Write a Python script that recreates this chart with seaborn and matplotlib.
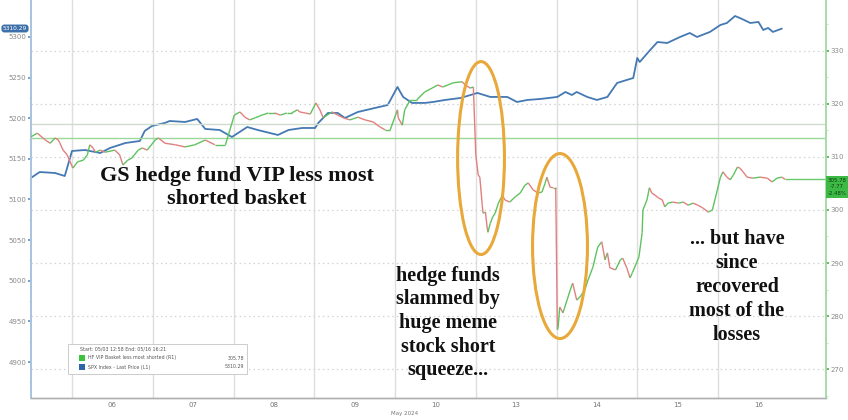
import numpy as np
import pandas as pd
import seaborn as sns
import matplotlib
matplotlib.use("Agg")
import matplotlib.pyplot as plt
from matplotlib.collections import LineCollection
from matplotlib.patches import Ellipse, FancyBboxPatch, Rectangle
from matplotlib.ticker import MultipleLocator

# ---------------- data ----------------
# x = trading-session position (session index + fraction of the day); 0 = 05/03
session_labels = ["06", "07", "08", "09", "10", "13", "14", "15", "16"]
session_starts = [1, 2, 3, 4, 5, 6, 7, 8, 9]

spx_t = [0.49, 0.60, 0.79, 0.91, 0.95, 1.00, 1.16, 1.35, 1.47, 1.66, 1.84, 1.90, 1.99, 2.15, 2.21,
         2.40, 2.55, 2.65, 2.83, 2.98, 3.17, 3.30, 3.55, 3.68, 3.85, 4.01, 4.05, 4.17, 4.29, 4.38,
         4.54, 4.75, 4.91, 5.03, 5.10, 5.21, 5.37, 5.47, 5.62, 5.81, 6.02, 6.18, 6.39, 6.51, 6.64,
         6.80, 7.01, 7.11, 7.19, 7.25, 7.38, 7.50, 7.63, 7.75, 7.87, 7.95, 8.00, 8.03, 8.16, 8.25,
         8.37, 8.53, 8.65, 8.74, 8.90, 9.03, 9.11, 9.21, 9.27, 9.40, 9.50, 9.56, 9.62, 9.68, 9.79]
spx_v = [5126.5, 5133.8, 5132.6, 5128.9, 5142.5, 5159.7, 5160.9, 5157.2, 5163.4, 5169.5, 5172.0,
         5184.3, 5190.5, 5194.2, 5196.6, 5195.4, 5199.1, 5186.8, 5185.5, 5176.9, 5189.2, 5185.5,
         5179.4, 5185.5, 5188.0, 5188.0, 5194.2, 5206.5, 5206.5, 5200.3, 5207.7, 5212.6, 5216.3,
         5238.5, 5226.2, 5218.8, 5218.8, 5220.0, 5222.5, 5224.9, 5231.1, 5226.2, 5226.2, 5220.0,
         5222.5, 5223.7, 5226.2, 5232.3, 5228.6, 5232.3, 5226.2, 5222.5, 5226.2, 5243.4, 5247.1,
         5249.5, 5274.2, 5269.2, 5284.0, 5293.8, 5292.6, 5300.0, 5304.9, 5300.0, 5306.2, 5314.8,
         5317.2, 5325.8, 5323.4, 5317.2, 5318.5, 5308.6, 5311.1, 5306.2, 5310.3]

vip_t = [0.49, 0.57, 0.67, 0.73, 0.79, 0.83, 0.85, 0.89, 0.94,
         1.01, 1.04, 1.07, 1.14, 1.19, 1.22, 1.26, 1.29, 1.35, 1.41, 1.53, 1.59, 1.63, 1.69, 1.74, 1.82, 1.87, 1.93,
         2.03, 2.07, 2.15, 2.28, 2.40, 2.52, 2.65, 2.77, 2.90,
         3.01, 3.08, 3.14, 3.20, 3.27, 3.35, 3.43, 3.51, 3.58, 3.66, 3.72, 3.79, 3.82, 3.89, 3.95,
         4.02, 4.07, 4.11, 4.16, 4.22, 4.29, 4.36, 4.44, 4.54, 4.63, 4.73, 4.81, 4.88, 4.94,
         5.03, 5.04, 5.09, 5.12, 5.19, 5.27, 5.37, 5.46, 5.53, 5.59, 5.72, 5.83, 5.87, 5.93, 5.97,
         6.00, 6.03, 6.05, 6.08, 6.09, 6.12, 6.14, 6.15, 6.18, 6.21, 6.24, 6.28, 6.33, 6.36, 6.42,
         6.49, 6.55, 6.61, 6.65, 6.71, 6.77, 6.82, 6.86, 6.88, 6.92, 6.96, 6.99,
         7.01, 7.02, 7.04, 7.08, 7.13, 7.17, 7.20, 7.25, 7.29, 7.35, 7.39, 7.45, 7.51, 7.56, 7.60,
         7.63, 7.66, 7.73, 7.79, 7.82, 7.87, 7.91, 7.94,
         8.02, 8.06, 8.07, 8.12, 8.15, 8.18, 8.22, 8.26, 8.31, 8.34, 8.38, 8.44, 8.51, 8.57, 8.63,
         8.69, 8.75, 8.81, 8.88, 8.93,
         9.03, 9.06, 9.11, 9.15, 9.19, 9.24, 9.27, 9.31, 9.36, 9.43, 9.52, 9.61, 9.67, 9.73, 9.79, 9.83]
vip_v = [313.8, 314.5, 313.2, 312.6, 313.6, 313.2, 312.6, 311.3, 310.4,
         307.9, 308.5, 309.1, 309.4, 310.4, 312.3, 311.7, 310.9, 311.3, 310.9, 311.3, 310.4, 308.5, 309.4, 309.8, 311.3, 311.7, 311.3,
         313.2, 313.6, 312.6, 312.3, 311.9, 312.3, 313.2, 312.3, 312.3,
         317.9, 318.5, 317.5, 317.0, 317.4, 317.9, 318.3, 318.3, 317.9, 318.3, 318.3, 318.9, 318.5, 318.3, 318.1,
         320.2, 318.9, 317.4, 317.9, 318.5, 317.9, 317.4, 317.0, 317.5, 317.0, 316.6, 315.7, 315.1, 315.1,
         318.9, 317.4, 316.0, 318.9, 320.8, 320.8, 322.3, 323.0, 323.6, 323.2, 324.0, 324.2, 323.6, 323.0, 323.2,
         310.4, 306.6, 306.2, 300.9, 299.4, 299.6, 296.8, 295.8, 297.5, 298.7, 299.4, 301.3, 302.8, 301.9, 301.5,
         302.5, 303.2, 304.7, 305.1, 303.8, 303.2, 303.4, 305.1, 306.2, 304.3, 304.2, 304.2,
         277.4, 277.9, 281.7, 280.6, 283.0, 284.9, 286.2, 283.0, 283.6, 284.9, 286.8, 289.2, 293.0, 294.0, 290.6,
         291.9, 289.1, 288.7, 290.6, 290.9, 289.1, 287.2, 288.2,
         291.1, 295.7, 300.0, 301.9, 304.2, 303.2, 302.8, 302.3, 301.9, 300.6, 301.3, 301.5, 301.3, 301.5, 300.9,
         301.3, 300.9, 300.4, 299.6, 300.0,
         306.2, 307.2, 306.2, 305.7, 306.6, 308.1, 307.9, 307.2, 306.2, 306.0, 306.2, 306.0, 305.3, 306.0, 306.2, 305.78]

vip_prev_close = 313.55
vip_ref_level = 316.2
spx_last = 5310.29
vip_last = 305.78
vip_chg = "-7.77"
vip_pct = "-2.48%"

# ---------------- style ----------------
sns.set_theme(style="white")
plt.rcParams["font.family"] = ["DejaVu Sans"]

W, H = 848, 420
fig = plt.figure(figsize=(W / 100, H / 100), dpi=100)
fig.patch.set_facecolor("white")
L, R, B, T = 31, 826, 398, 0
ax = fig.add_axes([L / W, 1 - B / H, (R - L) / W, (B - T) / H])
ax2 = ax.twinx()


def fx(px):
    return px / W


def fy(py):
    return 1 - py / H


ax.set_xlim(0.492, 10.337)
ax.set_ylim(4855.7, 5345.5)
ax2.set_ylim(264.53, 339.62)

# vertical session gridlines
for s in session_starts:
    ax.axvline(s, color="#dedede", lw=1.0, zorder=0)

# horizontal dotted grid from right axis
ax2.yaxis.set_major_locator(MultipleLocator(10))
ax2.yaxis.set_minor_locator(MultipleLocator(5))
ax2.grid(axis="y", which="major", color="#d2d2d2", linestyle=(0, (1.2, 2.5)), lw=0.9)
ax.grid(False)

# reference lines
ax2.axhline(vip_ref_level, color="#cddccd", lw=1.0, zorder=1)
ax2.axhline(vip_prev_close, color="#9bd89b", lw=1.0, zorder=1)

# SPX line (left axis)
sns.lineplot(x=spx_t, y=spx_v, ax=ax, color="#4479b3", lw=1.3, sort=False, zorder=3)

# VIP basket (right axis): up moves green, down moves red
vt = np.asarray(vip_t)
vv = np.asarray(vip_v)
segs = [[(vt[i - 1], vv[i - 1]), (vt[i], vv[i])] for i in range(1, len(vt))]
cols = ["#5fc25f" if vv[i] >= vv[i - 1] else "#e27f7f" for i in range(1, len(vt))]
ax2.add_collection(LineCollection(segs, colors=cols, linewidths=1.0, zorder=3))
ax2.hlines(vip_last, vt[-1], 10.337, color="#6cc86c", lw=1.0, zorder=2)

# ellipses
ell_kw = dict(facecolor="none", edgecolor="#e8a83a", lw=2.2, zorder=5)
ax2.add_patch(Ellipse((6.065, 309.8), 0.58, 36.4, **ell_kw))
ax2.add_patch(Ellipse((7.043, 293.2), 0.68, 34.9, **ell_kw))

# axes ticks
ax.yaxis.set_major_locator(MultipleLocator(50))
ax.yaxis.set_minor_locator(MultipleLocator(25))
ax.set_ylabel("")
ax2.set_ylabel("")
ax.set_xticks([s + 0.5 for s in session_starts])
ax.set_xticklabels(session_labels)
ax.tick_params(axis="x", length=0, pad=3, labelsize=5, labelcolor="#777777")
ax.tick_params(axis="y", which="major", direction="out", length=2.2, width=1.2, color="#5b8fc7",
               pad=1, labelsize=5, labelcolor="#8a8a8a")
ax.tick_params(axis="y", which="minor", direction="out", length=1.5, width=0.6, color="#b8cde4")
ax2.tick_params(axis="y", which="major", direction="out", length=2.2, width=1.2, color="#4cb04c",
                pad=1, labelsize=5, labelcolor="#8a8a8a")
ax2.tick_params(axis="y", which="minor", direction="out", length=1.5, width=0.6, color="#b9e0b9")

for a in (ax, ax2):
    a.spines["top"].set_visible(False)
    a.spines["bottom"].set_color("#b0b0b0")
    a.spines["left"].set_color("#a9c3df")
    a.spines["right"].set_color("#a8dca8")
    a.spines["bottom"].set_linewidth(1.0)

fig.text(fx(405), fy(414), "May 2024", ha="center", va="center", fontsize=4, color="#777777")

# last-value tags
fig.text(fx(15), fy(28.5), f"{spx_last:.2f}", ha="center", va="center", fontsize=4.2, color="white",
         bbox=dict(boxstyle="round,pad=0.25,rounding_size=0.5", fc="#3d70aa", ec="none"))
fig.text(fx(837), fy(187), f"{vip_last:.2f}\n{vip_chg}\n{vip_pct}", ha="center", va="center",
         fontsize=3.9, color="#0d3d0d", linespacing=1.35,
         bbox=dict(boxstyle="square,pad=0.3", fc="#3dba45", ec="none"))

# legend box
fig.patches.append(FancyBboxPatch((fx(68), fy(374)), fx(179), (30 / H), boxstyle="square,pad=0",
                                  transform=fig.transFigure, fc="white", ec="#c4c4c4", lw=0.6))
fig.text(fx(80), fy(349), "Start: 05/03 12:58 End: 05/16 16:21", fontsize=3.4, color="#555555",
         va="center", ha="left")
fig.patches.append(Rectangle((fx(79), fy(361)), fx(6), 6 / H, transform=fig.transFigure,
                             fc="#3dc23d", ec="none"))
fig.patches.append(Rectangle((fx(79), fy(370)), fx(6), 6 / H, transform=fig.transFigure,
                             fc="#2e64a8", ec="none"))
fig.text(fx(88), fy(358), "HF VIP Basket less most shorted (R1)", fontsize=3.4, color="#555555",
         va="center", ha="left")
fig.text(fx(244), fy(358), f"{vip_last:.2f}", fontsize=3.4, color="#555555", va="center", ha="right")
fig.text(fx(88), fy(367), "SPX Index - Last Price (L1)", fontsize=3.4, color="#555555",
         va="center", ha="left")
fig.text(fx(244), fy(367), f"{spx_last:.2f}", fontsize=3.4, color="#555555", va="center", ha="right")

# annotations
serif = ["Liberation Serif", "DejaVu Serif"]
fig.text(fx(237), fy(188), "GS hedge fund VIP less most\nshorted basket", ha="center", va="center",
         fontsize=16, fontweight="bold", family=serif, color="#111111", linespacing=1.2)
fig.text(fx(448), fy(323), "hedge funds\nslammed by\nhuge meme\nstock short\nsqueeze...", ha="center",
         va="center", fontsize=14.5, fontweight="bold", family=serif, color="#111111", linespacing=1.25)
fig.text(fx(737), fy(287), "... but have\nsince\nrecovered\nmost of the\nlosses", ha="center",
         va="center", fontsize=14.5, fontweight="bold", family=serif, color="#111111", linespacing=1.25)

fig.savefig("out.png", dpi=100, facecolor="white")
